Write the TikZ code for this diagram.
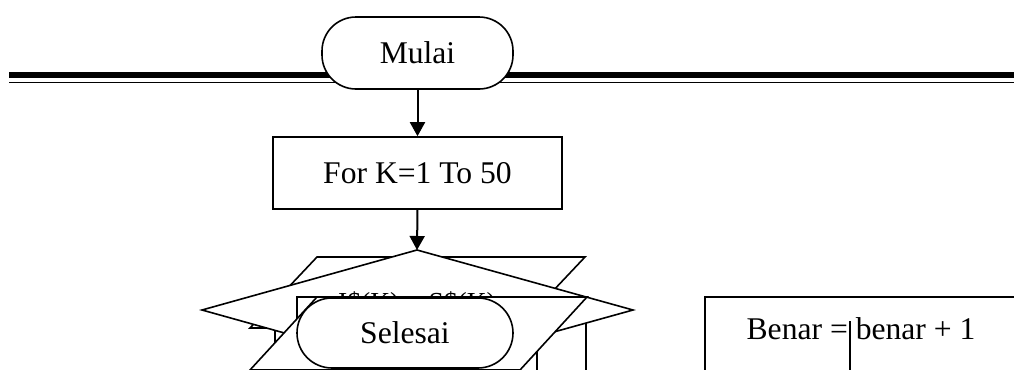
\documentclass[tikz,border=0pt]{standalone}
\usepackage{fontspec}
\setmainfont{Liberation Serif}
\usetikzlibrary{arrows.meta}
\tikzset{
  shp/.style={draw=black, line width=0.8pt, fill=white},
  term/.style={shp, rounded corners=17pt, inner sep=0pt},
  procbox/.style={shp, rectangle, inner sep=0pt},
  txt/.style={inner sep=0pt, font=\fontsize{15.8}{19}\selectfont},
  flow/.style={line width=1pt, -{Triangle[length=7pt,width=7.5pt]}},
}
\begin{document}
\begin{tikzpicture}[x=0.5pt, y=-0.5pt]
\useasboundingbox (0,0) rectangle (1014,370);
\clip (0,0) rectangle (1014,370);
% double rule
\draw[line width=3.4pt] (9,75) -- (1020,75);
\draw[line width=0.75pt] (9,82.5) -- (1020,82.5);
% start
\node[term, minimum width=95.5pt, minimum height=36pt, font=\fontsize{15.8}{19}\selectfont] (mulai) at (417.5,53) {Mulai};
% for box
\node[procbox, minimum width=144.5pt, minimum height=36pt, font=\fontsize{15.8}{19}\selectfont] (for) at (417.5,173) {For K=1 To 50};
% back rectangle
\filldraw[shp] (275,310) rectangle (586,385);
% back parallelogram
\filldraw[shp] (317,257) -- (585,257) -- (518,328) -- (250,328) -- cycle;
% decision diamond
\filldraw[shp] (417,250) -- (633,310) -- (417,370) -- (202,310) -- cycle;
\coordinate (dtop) at (417,250);
\node[inner sep=0pt, anchor=base, font=\fontsize{13.75}{16}\selectfont] (declabel) at (417,311) {I\$(K) = S\$(K)};
% front rectangle
\filldraw[shp] (297,297) rectangle (537,385);
% front parallelogram
\filldraw[shp] (317,297) -- (587,297) -- (520,370) -- (250,370) -- cycle;
% end
\node[term, minimum width=108pt, minimum height=35pt, rounded corners=17.5pt, font=\fontsize{15.8}{19}\selectfont] (selesai) at (405,333) {Selesai};
% benar box
\draw[line width=0.8pt] (705,385) -- (705,297) -- (1020,297);
\node[txt, anchor=base] (benar) at (861,339) {Benar = benar + 1};
\draw[line width=0.8pt] (850,321) -- (850,375);
% connectors
\draw[flow] (mulai.south) -- (for.north);
\draw[flow] (for.south) -- (dtop);
\end{tikzpicture}
\end{document}
